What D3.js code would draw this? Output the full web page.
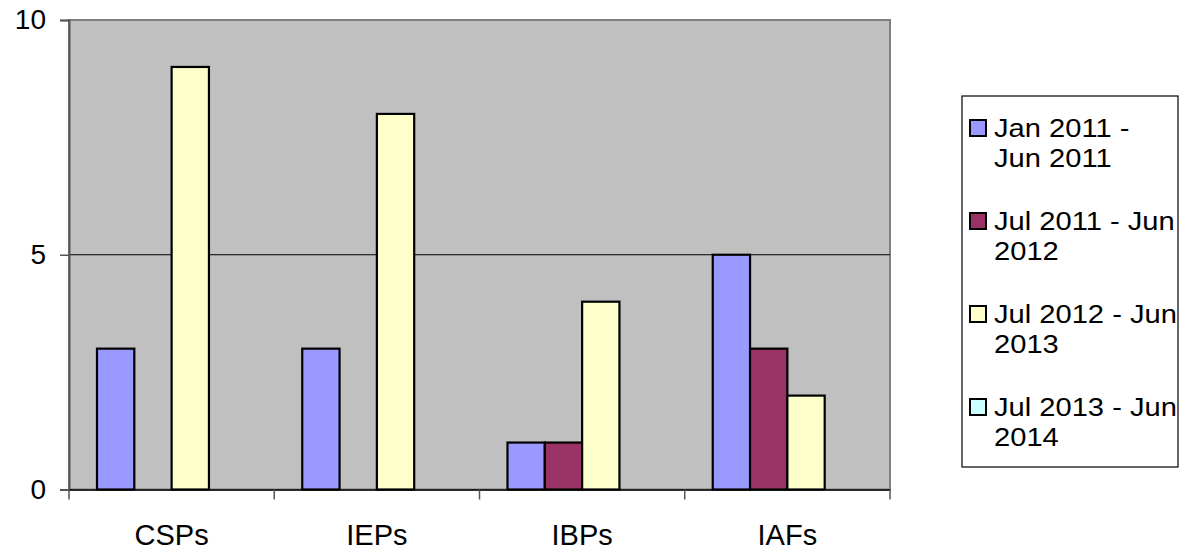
<!DOCTYPE html>
<html>
<head>
<meta charset="utf-8">
<script src="https://cdn.jsdelivr.net/npm/d3@7"></script>
<style>
  html, body { margin: 0; padding: 0; background: #ffffff; }
  svg { display: block; font-family: "Liberation Sans", Arial, sans-serif; }
</style>
</head>
<body>
<svg id="chart" width="1182" height="555"></svg>
<script>
// Categories along the x axis
const categories = ["CSPs", "IEPs", "IBPs", "IAFs"];

// Reporting periods (series), in legend order
const seriesNames = [
  ["Jan 2011 -", "Jun 2011"],
  ["Jul 2011 - Jun", "2012"],
  ["Jul 2012 - Jun", "2013"],
  ["Jul 2013 - Jun", "2014"]
];
const seriesColors = ["#9999FF", "#993366", "#FFFFCC", "#CCFFFF"];

// Counts per period, one value for each category
const janJun2011 = [3, 3, 1, 5];
const jul2011Jun2012 = [0, 0, 1, 3];
const jul2012Jun2013 = [9, 8, 4, 2];
const jul2013Jun2014 = [0, 0, 0, 0];
const seriesValues = [janJun2011, jul2011Jun2012, jul2012Jun2013, jul2013Jun2014];

const yTicks = [0, 5, 10];

const svg = d3.select("#chart");
const plot = { left: 69, top: 20, right: 890, bottom: 489.5 };

const x0 = d3.scaleBand().domain(categories).range([plot.left, plot.right]).padding(0);
const x1 = d3.scaleBand().domain(d3.range(seriesValues.length))
  .range([0, x0.bandwidth()]).paddingOuter(0.75).paddingInner(0);
const y = d3.scaleLinear().domain([0, 10]).range([plot.bottom, plot.top]);

// Plot area background
svg.append("rect")
  .attr("x", plot.left).attr("y", plot.top)
  .attr("width", plot.right - plot.left).attr("height", plot.bottom - plot.top)
  .attr("fill", "#C0C0C0").attr("stroke", "#808080").attr("stroke-width", 2);

// Horizontal gridlines
svg.append("g").selectAll("line")
  .data(yTicks.filter(t => t > 0 && t < 10))
  .join("line")
  .attr("x1", plot.left).attr("x2", plot.right)
  .attr("y1", d => y(d)).attr("y2", d => y(d))
  .attr("stroke", "#000").attr("stroke-width", 1);

// Bars
const groups = svg.append("g").selectAll("g")
  .data(categories)
  .join("g")
  .attr("transform", d => `translate(${x0(d)},0)`);

groups.selectAll("rect")
  .data((c, ci) => seriesValues.map((vals, si) => ({ si, v: vals[ci] })))
  .join("rect")
  .attr("x", d => x1(d.si))
  .attr("y", d => y(d.v))
  .attr("width", x1.bandwidth())
  .attr("height", d => y(0) - y(d.v))
  .attr("fill", d => seriesColors[d.si])
  .attr("stroke", d => d.v > 0 ? "#000" : "none")
  .attr("stroke-width", 2.2);

// Y axis
const yAxis = d3.axisLeft(y).tickValues(yTicks).tickSize(9).tickPadding(14)
  .tickFormat(d3.format("d"));
const gy = svg.append("g").attr("transform", `translate(${plot.left},0)`).call(yAxis);
gy.select(".domain").attr("stroke", "#555").attr("stroke-width", 2);
gy.selectAll(".tick line").attr("stroke", "#555").attr("stroke-width", 1.5);
gy.selectAll(".tick text").attr("font-size", 28).attr("fill", "#000")
  .attr("font-family", "Liberation Sans, Arial, sans-serif");

// X axis
const xAxis = d3.axisBottom(x0).tickSize(0).tickPadding(0);
const gx = svg.append("g").attr("transform", `translate(0,${plot.bottom})`).call(xAxis);
gx.select(".domain").attr("stroke", "#000").attr("stroke-width", 1.5);
gx.selectAll(".tick text").attr("font-size", 29).attr("fill", "#000")
  .attr("font-family", "Liberation Sans, Arial, sans-serif")
  .attr("dy", null).attr("y", 55);
// Category separators below the axis
svg.append("g").selectAll("line")
  .data(categories.concat(["end"]))
  .join("line")
  .attr("x1", (d, i) => i < categories.length ? x0(d) : plot.right)
  .attr("x2", (d, i) => i < categories.length ? x0(d) : plot.right)
  .attr("y1", plot.bottom).attr("y2", plot.bottom + 10)
  .attr("stroke", "#555").attr("stroke-width", 1.5);

// Legend
const legend = svg.append("g");
legend.append("rect")
  .attr("x", 962).attr("y", 96).attr("width", 216).attr("height", 371)
  .attr("fill", "#fff").attr("stroke", "#000").attr("stroke-width", 1.2);

const items = legend.selectAll("g.item")
  .data(seriesNames)
  .join("g").attr("class", "item")
  .attr("transform", (d, i) => `translate(0,${137 + i * 93})`);

items.append("rect")
  .attr("x", 970).attr("y", -17).attr("width", 16).attr("height", 16)
  .attr("fill", (d, i) => seriesColors[i])
  .attr("stroke", "#000").attr("stroke-width", 2);

const txt = items.append("text")
  .attr("font-size", 26).attr("fill", "#000")
  .attr("transform", "translate(994,0) scale(1.12,1)");
txt.selectAll("tspan")
  .data(d => d)
  .join("tspan")
  .attr("x", 0)
  .attr("y", (d, i) => i * 30)
  .text(d => d);
</script>
</body>
</html>
